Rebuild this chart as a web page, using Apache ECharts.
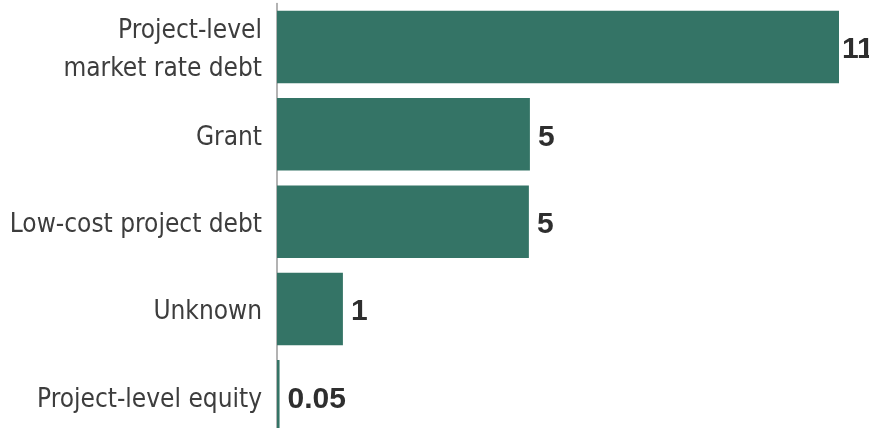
<!DOCTYPE html>
<html>
<head>
<meta charset="utf-8">
<script src="https://cdn.jsdelivr.net/npm/echarts@6/dist/echarts.min.js"></script>
<style>html,body{margin:0;padding:0;background:#fff;overflow:hidden;}#c{width:869px;height:441px;}</style>
</head>
<body>
<div id="c"></div>
<script>
const categories = ["Project-level\nmarket rate debt", "Grant", "Low-cost project debt", "Unknown", "Project-level equity"];
const values = [11, 4.95, 4.93, 1.29, 0.05];
const valueLabels = ["11", "5", "5", "1", "0.05"];

const CAT_FONT = "'DejaVu Sans Condensed', 'Liberation Sans Narrow', Lato, sans-serif";
const VAL_FONT = "'Liberation Sans', Arial, sans-serif";
const chart = echarts.init(document.getElementById('c'), null, {renderer: 'canvas'});
chart.setOption({
  animation: false,
  grid: {left: 277, right: 30, top: 3.4, height: 436.5, containLabel: false},
  xAxis: {type: 'value', min: 0, max: 11, show: false},
  yAxis: {
    type: 'category', data: categories, inverse: true,
    axisLine: {show: true, lineStyle: {color: '#9a9a9a', width: 1.5}},
    axisTick: {show: false},
    axisLabel: {
      margin: 15, align: 'right',
      formatter: v => v.split('\n').map(s => '{c|' + s + '}').join('\n'),
      rich: {c: {color: '#3d3d3d', fontFamily: CAT_FONT, fontSize: 26, lineHeight: 38, padding: [7, 0, 0, 0]}}
    }
  },
  series: [{
    type: 'bar',
    data: values.map((v, i) => v === Math.max(...values) ? {value: v, label: {distance: 3}} : v),
    barCategoryGap: '17%',
    itemStyle: {color: '#347466'},
    label: {
      show: true, position: 'right', distance: 8, offset: [0, 3],
      formatter: p => valueLabels[p.dataIndex],
      color: '#2e2e2e', fontFamily: VAL_FONT, fontWeight: 'bold', fontSize: 30
    }
  }]
});
</script>
</body>
</html>
